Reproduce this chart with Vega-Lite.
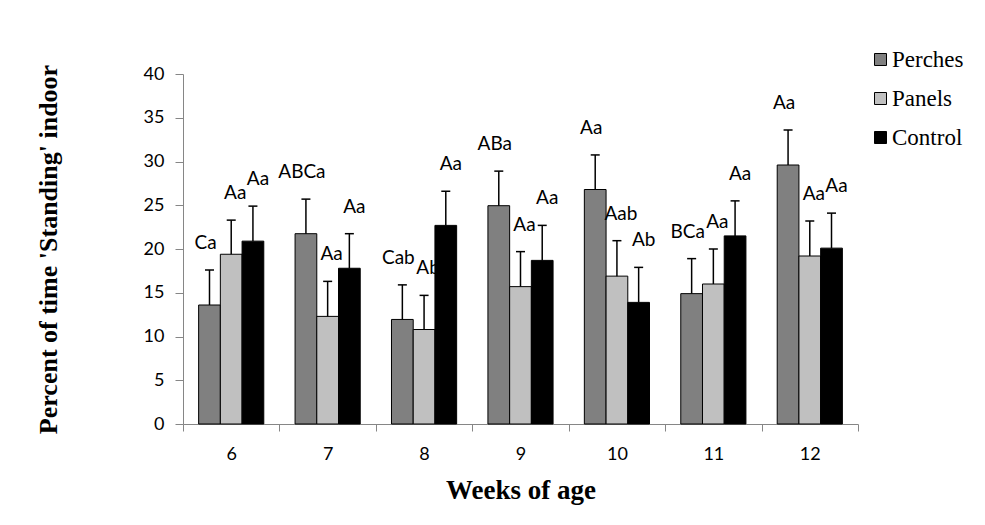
{
  "$schema": "https://vega.github.io/schema/vega-lite/v6.json",
  "width": 675,
  "height": 350,
  "autosize": {"type": "none"},
  "padding": {"left": 183, "top": 74, "right": 127, "bottom": 101},
  "background": "white",
  "config": {
    "view": {"stroke": null},
    "axis": {"grid": false, "domainColor": "#868686", "tickColor": "#868686", "labelFont": "Lato", "labelColor": "#000000", "titleFont": "Liberation Serif", "titleColor": "#000000", "titleFontWeight": "bold"},
    "legend": {"labelFont": "Liberation Serif", "labelFontSize": 23, "labelColor": "#000000"}
  },
  "data": {
    "values": [
      {"week": "6", "group": "Perches", "value": 13.6, "hi": 17.6, "letters": "Ca"},
      {"week": "6", "group": "Panels", "value": 19.4, "hi": 23.3, "letters": "Aa"},
      {"week": "6", "group": "Control", "value": 20.9, "hi": 24.9, "letters": "Aa"},
      {"week": "7", "group": "Perches", "value": 21.75, "hi": 25.7, "letters": "ABCa"},
      {"week": "7", "group": "Panels", "value": 12.3, "hi": 16.3, "letters": "Aa"},
      {"week": "7", "group": "Control", "value": 17.8, "hi": 21.75, "letters": "Aa"},
      {"week": "8", "group": "Perches", "value": 11.95, "hi": 15.9, "letters": "Cab"},
      {"week": "8", "group": "Panels", "value": 10.8, "hi": 14.7, "letters": "Ab"},
      {"week": "8", "group": "Control", "value": 22.7, "hi": 26.6, "letters": "Aa"},
      {"week": "9", "group": "Perches", "value": 24.95, "hi": 28.9, "letters": "ABa"},
      {"week": "9", "group": "Panels", "value": 15.7, "hi": 19.7, "letters": "Aa"},
      {"week": "9", "group": "Control", "value": 18.7, "hi": 22.7, "letters": "Aa"},
      {"week": "10", "group": "Perches", "value": 26.8, "hi": 30.75, "letters": "Aa"},
      {"week": "10", "group": "Panels", "value": 16.9, "hi": 20.95, "letters": "Aab"},
      {"week": "10", "group": "Control", "value": 13.9, "hi": 17.9, "letters": "Ab"},
      {"week": "11", "group": "Perches", "value": 14.9, "hi": 18.9, "letters": "BCa"},
      {"week": "11", "group": "Panels", "value": 16.0, "hi": 20.0, "letters": "Aa"},
      {"week": "11", "group": "Control", "value": 21.5, "hi": 25.5, "letters": "Aa"},
      {"week": "12", "group": "Perches", "value": 29.6, "hi": 33.6, "letters": "Aa"},
      {"week": "12", "group": "Panels", "value": 19.2, "hi": 23.2, "letters": "Aa"},
      {"week": "12", "group": "Control", "value": 20.1, "hi": 24.1, "letters": "Aa"}
    ]
  },
  "encoding": {
    "x": {
      "field": "week", "type": "ordinal", "sort": ["6", "7", "8", "9", "10", "11", "12"],
      "scale": {"paddingInner": 0, "paddingOuter": 0},
      "axis": {"title": "Weeks of age", "labelAngle": 0, "tickBand": "extent", "tickSize": 7, "labelFontSize": 18, "labelPadding": 14, "titleFontSize": 27, "titlePadding": 14}
    },
    "xOffset": {
      "field": "group", "type": "nominal",
      "scale": {"domain": ["Perches", "Panels", "Control"], "paddingInner": 0, "paddingOuter": 0.72}
    }
  },
  "layer": [
    {
      "mark": {"type": "bar", "stroke": "#000000", "strokeWidth": 1},
      "encoding": {
        "y": {
          "field": "value", "type": "quantitative",
          "scale": {"domain": [0, 40]},
          "axis": {"title": "Percent of time 'Standing' indoor", "values": [0, 5, 10, 15, 20, 25, 30, 35, 40], "tickSize": 8, "labelFontSize": 18, "labelPadding": 11, "titleFontSize": 26, "titlePadding": 82}
        },
        "color": {
          "field": "group", "type": "nominal",
          "scale": {"domain": ["Perches", "Panels", "Control"], "range": ["#808080", "#C0C0C0", "#000000"]},
          "legend": {
            "title": null, "orient": "none", "legendX": 686, "legendY": -26,
            "symbolType": "square", "symbolSize": 144, "symbolStrokeColor": "#000000", "symbolStrokeWidth": 1,
            "labelFont": "Liberation Serif", "labelFontSize": 23, "labelColor": "#000000", "labelOffset": 0,
            "rowPadding": 15, "padding": 0, "labelLimit": 200
          }
        }
      }
    },
    {
      "mark": {"type": "rule", "stroke": "#000000", "strokeWidth": 1.5},
      "encoding": {
        "y": {"field": "value", "type": "quantitative"},
        "y2": {"field": "hi"}
      }
    },
    {
      "mark": {"type": "point", "shape": "stroke", "size": 81, "filled": false, "stroke": "#000000", "strokeWidth": 1.5, "opacity": 1},
      "encoding": {
        "y": {"field": "hi", "type": "quantitative"}
      }
    },
    {
      "transform": [{"filter": "datum.group === 'Perches'"}],
      "mark": {"type": "text", "font": "Lato", "fontSize": 19, "color": "#000000", "baseline": "middle", "dy": -27, "dx": -4},
      "encoding": {
        "y": {"field": "hi", "type": "quantitative"},
        "text": {"field": "letters"}
      }
    },
    {
      "transform": [{"filter": "datum.group === 'Panels'"}],
      "mark": {"type": "text", "font": "Lato", "fontSize": 19, "color": "#000000", "baseline": "middle", "dy": -27, "dx": 4},
      "encoding": {
        "y": {"field": "hi", "type": "quantitative"},
        "text": {"field": "letters"}
      }
    },
    {
      "transform": [{"filter": "datum.group === 'Control'"}],
      "mark": {"type": "text", "font": "Lato", "fontSize": 19, "color": "#000000", "baseline": "middle", "dy": -27, "dx": 5},
      "encoding": {
        "y": {"field": "hi", "type": "quantitative"},
        "text": {"field": "letters"}
      }
    }
  ]
}
